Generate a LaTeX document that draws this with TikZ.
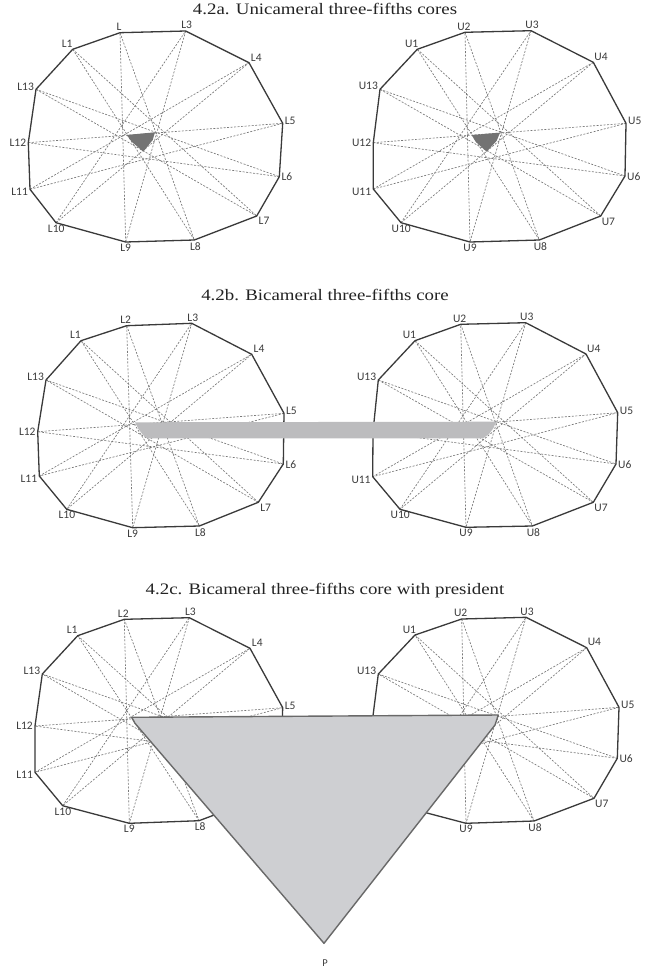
\documentclass[tikz,border=0pt]{standalone}
\usepackage{fontspec}
\newfontfamily\labfont{Carlito}
\newfontfamily\titlefont{Liberation Serif}[FakeStretch=1.18]
\usetikzlibrary{calc}
\definecolor{edgecol}{RGB}{58,58,58}
\definecolor{chordcol}{RGB}{120,120,120}
\definecolor{corecol}{RGB}{115,115,115}
\definecolor{barcol}{RGB}{188,188,190}
\definecolor{tricol}{RGB}{206,207,210}
\definecolor{tridraw}{RGB}{105,105,105}
\definecolor{labcol}{RGB}{60,60,60}
\definecolor{titlecol}{RGB}{35,35,35}
\def\labang{135,100,80,35,15,-3,-35,-80,-90,-88,-165,180,165}
\newcommand\chamber[3]{%
  \foreach \i/\x/\y in {#2}{\coordinate (#1\i) at (\x,\y);}
  \foreach \i [evaluate=\i as \j using {int(mod(\i+5,13)+1)}] in {1,...,13}{\draw[chord] (#1\i) -- (#1\j);}
  \draw[edge] (#11) -- (#12) -- (#13) -- (#14) -- (#15) -- (#16) -- (#17) -- (#18) -- (#19) -- (#110) -- (#111) -- (#112) -- (#113) -- cycle;
  \foreach \i/\t in {#3}{%
    \pgfmathsetmacro\ang{{\labang}[\i-1]}%
    \pgfmathtruncatemacro\anc{mod(\ang+540,360)}%
    \node[lab,anchor=\anc] (#1l\i) at ($(#1\i)+(\ang:1.2pt)$) {\t};
  }
}
\begin{document}
\begin{tikzpicture}[x=1pt,y=-1pt,
  edge/.style={draw=edgecol,line width=1.3pt,line join=round},
  chord/.style={draw=chordcol,line width=0.65pt,dash pattern=on 2pt off 1.5pt},
  lab/.style={font=\labfont\fontsize{11.5}{12}\selectfont,text=labcol,inner sep=0.8pt},
  title/.style={font=\titlefont\fontsize{16}{18}\selectfont,text=titlecol,anchor=base,inner sep=0pt},
  core/.style={fill=corecol},
  bar/.style={fill=barcol},
  tri/.style={fill=tricol,draw=tridraw,line width=1.4pt,line join=round}]
\useasboundingbox (0,0) rectangle (651,974);
\fill[white] (0,0) rectangle (651,974);

% titles
\node[title] (ta) at (325,14.5) {4.2a. Unicameral three-fifths cores};
\node[title] (tb) at (325,300) {4.2b. Bicameral three-fifths core};
\node[title] (tc) at (325,594) {4.2c. Bicameral three-fifths core with president};

% 4.2a
\chamber{A}{1/72.7/49.3,2/120/32.7,3/185.7/31,4/249/62.7,5/282.7/123.3,6/279.3/176.7,7/256.7/216,8/194.3/240,9/125.7/242,10/56/222.7,11/30/189.3,12/28.3/142.7,13/36/89.3}
 {1/L1,2/L,3/L3,4/L4,5/L5,6/L6,7/L7,8/L8,9/L9,10/L10,11/L11,12/L12,13/L13}
\chamber{B}{1/417.3/49.3,2/465/32.3,3/531/30.7,4/593.3/62.3,5/626/123.3,6/625/176,7/600.7/216,8/539.3/240,9/470/242,10/401/222.7,11/373.3/189,12/373.3/142.7,13/380/89.3}
 {1/U1,2/U2,3/U3,4/U4,5/U5,6/U6,7/U7,8/U8,9/U9,10/U10,11/U11,12/U12,13/U13}
\fill[core] (126.7,135) -- (155,132.3) -- (152.7,140) -- (143.3,151.7) -- (131.7,141.7) -- cycle;
\fill[core] (471.7,135) -- (500,132.7) -- (496.7,140.7) -- (486.7,151.7) -- (475.7,141.7) -- cycle;

% 4.2b
\chamber{C}{1/81/340.7,2/126.7/325.7,3/191.7/323.3,4/251.7/354.3,5/284/413.3,6/283.3/464,7/258.3/502.3,8/199.3/526,9/132.7/527.7,10/66.7/509.3,11/39.3/476,12/37.7/431.7,13/46/380}
 {1/L1,2/L2,3/L3,4/L4,5/L5,6/L6,7/L7,8/L8,9/L9,10/L10,11/L11,12/L12,13/L13}
\chamber{D}{1/415/340.7,2/460.7/324.3,3/525.7/322.7,4/586/354,5/617.7/412.7,6/616/464,7/593.3/502.3,8/532.3/526,9/466/527.3,10/400/509.3,11/372.7/476.7,12/373/431.7,13/378.3/380}
 {1/U1,2/U2,3/U3,4/U4,5/U5,6/U6,7/U7,8/U8,9/U9,10/U10,11/U11,13/U13}
\fill[bar] (135,422.3) -- (496,421.7) -- (493.5,428) -- (489,434) -- (483.3,438.3) -- (147,438.3) -- (143,435) -- (138.5,429) -- cycle;

% 4.2c
\chamber{E}{1/77.7/635.7,2/124.3/619.3,3/189.3/617.7,4/250/648.3,5/282.7/707.7,6/281/758.7,7/257.7/798.7,8/199/820.7,9/129.3/823.3,10/62.7/805.7,11/35/772.3,12/35/726,13/42.3/674}
 {1/L1,2/L2,3/L3,4/L4,5/L5,8/L8,9/L9,10/L10,11/L11,12/L12,13/L13}
\chamber{F}{1/415/635,2/461.7/619,3/526/617.3,4/586.7/647.7,5/619/707.3,6/617.3/758.3,7/594/798.3,8/534/821,9/466/823.3,10/399.4/805.7,11/371.7/772.3,12/371.7/726,13/378.3/674}
 {1/U1,2/U2,3/U3,4/U4,5/U5,6/U6,7/U7,8/U8,9/U9,13/U13}
\coordinate (P) at (324,943.3);
\draw[tri] (131.7,717.3) -- (498.3,715) -- (495,725) -- (P) -- (135,723.3) -- cycle;
\node[lab,font=\labfont\fontsize{10.5}{11}\selectfont] (Plab) at (325,963.3) {P};
\end{tikzpicture}
\end{document}
